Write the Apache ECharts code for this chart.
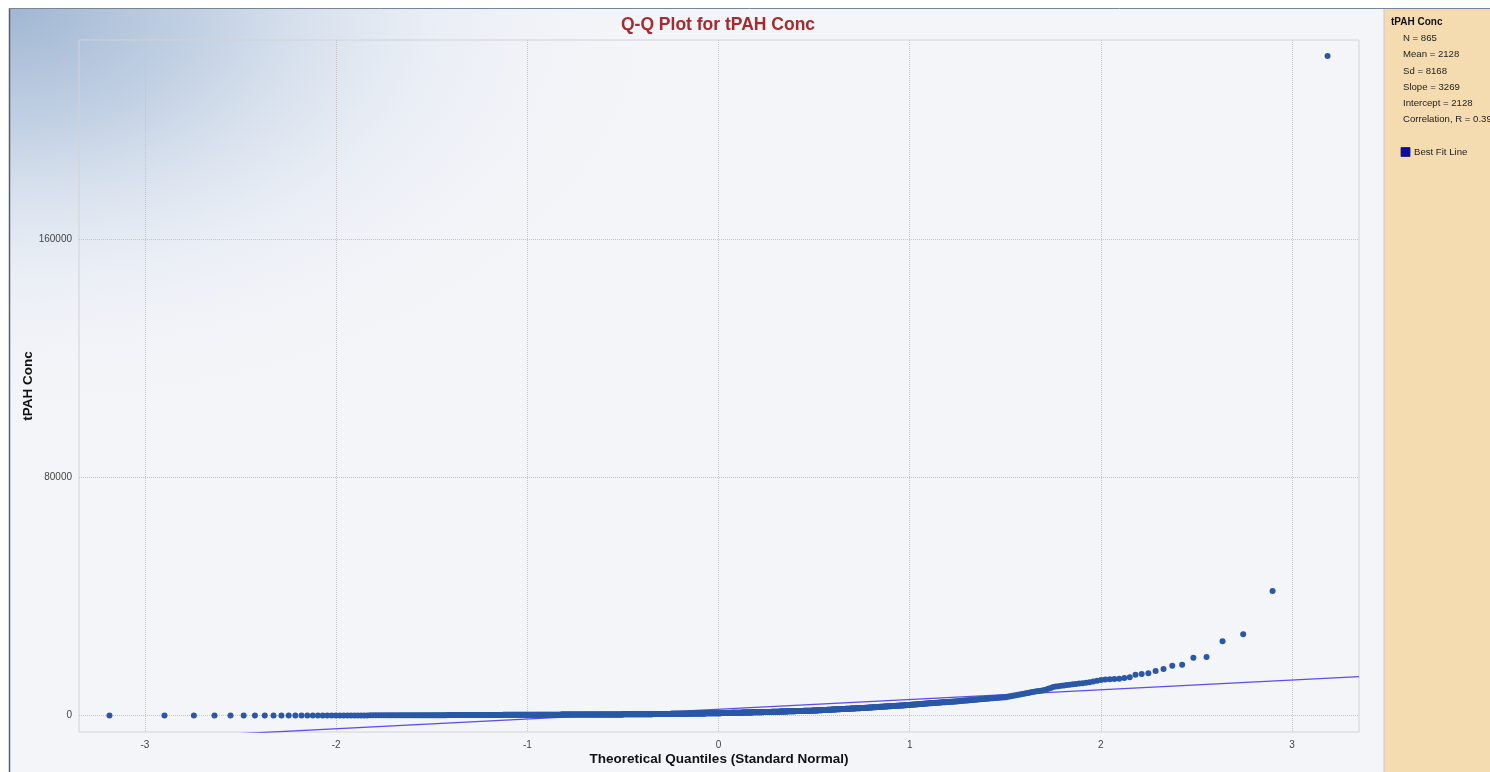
<!DOCTYPE html>
<html>
<head>
<meta charset="utf-8">
<title>Q-Q Plot for tPAH Conc</title>
<script src="https://cdn.jsdelivr.net/npm/echarts@6/dist/echarts.min.js"></script>
<style>
  html, body { margin: 0; padding: 0; background: #ffffff; }
  #chart { width: 1490px; height: 772px; }
</style>
</head>
<body>
<div id="chart"></div>
<script>
// Sorted tPAH concentrations (N = 865)
const tpahConc = [
  3, 8, 12, 16, 19, 22, 26, 29, 31, 35,
  38, 40, 44, 47, 49, 53, 56, 58, 62, 65,
  66, 68, 70, 70, 74, 77, 80, 80, 84, 87,
  90, 92, 95, 95, 99, 102, 104, 108, 110, 110,
  115, 117, 119, 122, 125, 125, 128, 131, 133, 136,
  138, 140, 140, 143, 145, 147, 149, 150,
  152, 154, 156, 158, 160, 160, 163, 165, 167, 170,
  172, 174, 176, 178, 180, 180, 183, 185, 187, 190,
  192, 194, 196, 198, 200, 200, 202, 204, 206, 208,
  210, 212, 214, 216, 218, 220, 220, 222, 224, 226,
  228, 230, 232, 234, 236, 238, 240, 240, 242, 245,
  247, 250, 250, 252, 255, 257, 260, 260, 262, 265,
  267, 270, 270, 272, 275, 277, 280, 280, 282, 285,
  287, 289, 290, 292, 294, 295, 297, 298, 300,
  301, 302, 303, 304, 305, 306, 307, 308, 309, 310,
  310, 311, 312, 313, 314, 315, 316, 317, 318, 319,
  320, 320, 321, 322, 323, 324, 325, 326, 327, 328,
  329, 330, 330, 331, 332, 333, 334, 335, 336, 337,
  338, 339, 340, 340, 341, 342, 343, 344, 345, 346,
  347, 348, 349, 350, 350, 351, 352, 353, 354, 355,
  356, 357, 358, 359, 360, 360, 361, 362, 363, 364,
  365, 366, 367, 368, 369, 370, 370, 371, 372, 373,
  374, 375, 376, 377, 378, 379, 380, 380, 381, 382,
  383, 384, 385, 386, 387, 388, 389, 390, 390, 391,
  392, 393, 394, 395, 396, 397, 398, 399, 400, 400,
  402, 404, 405, 406, 408, 409, 410, 410, 412, 414,
  415, 416, 417, 418, 419, 419, 420, 420, 420, 420,
  422, 424, 425, 427, 429, 430, 432, 434, 435, 437,
  439, 440, 442, 444, 445, 447, 449, 450, 452, 454,
  455, 457, 459, 460, 462, 464, 465, 467, 469, 470,
  472, 474, 475, 477, 479, 480, 482, 484, 485, 487,
  489, 490, 492, 494, 496, 498, 500,
  503, 505, 508, 510, 513, 516, 518, 520, 523, 526,
  529, 531, 534, 537, 540, 542, 545, 548, 550, 553,
  556, 558, 561, 564, 566, 569, 572, 575, 577, 580,
  583, 585, 588, 591, 593, 596, 599, 601, 604, 607,
  610, 612, 615, 618, 620, 623, 626, 628, 631, 634,
  637, 639, 642, 645, 647, 650, 653, 655, 658, 661,
  664, 666, 669, 672, 674, 677, 680, 682, 685, 688,
  691, 693, 696, 699, 701, 704, 707, 709, 712, 715,
  718, 720, 723, 726, 728, 731, 734, 736, 739, 742,
  745, 747, 750, 753, 755, 758, 761, 763, 766, 769,
  772, 774, 777, 780, 782, 785, 788, 790, 793, 796,
  799, 801, 804, 807, 809, 812, 815, 818, 820,
  825, 829, 834, 838, 843, 847, 852, 856, 861, 865,
  870, 874, 879, 883, 888, 892, 897, 901, 906, 910,
  915, 919, 924, 928, 933, 937, 942, 946, 951, 955,
  960, 964, 969, 973, 978, 982, 987, 991, 996, 1000,
  1005, 1009, 1014, 1018, 1023, 1027, 1032, 1036, 1041, 1045,
  1050, 1054, 1059, 1063, 1068, 1072, 1077, 1081, 1086, 1090,
  1095, 1099, 1104, 1108, 1113, 1117, 1122, 1126, 1131, 1135,
  1140, 1144, 1149, 1153, 1158, 1162, 1167, 1171, 1176, 1180,
  1185, 1189, 1193, 1197, 1200,
  1206, 1212, 1218, 1225, 1231, 1237, 1243, 1250, 1256, 1262,
  1268, 1275, 1281, 1287, 1293, 1300, 1306, 1312, 1318, 1325,
  1331, 1337, 1343, 1350, 1356, 1362, 1368, 1375, 1381, 1387,
  1393, 1400, 1406, 1412, 1418, 1425, 1431, 1437, 1443, 1450,
  1456, 1462, 1468, 1475, 1481, 1487, 1493, 1500, 1506, 1512,
  1518, 1525, 1531, 1537, 1543, 1550, 1556, 1562, 1568, 1575,
  1581, 1587, 1593, 1600, 1606, 1612, 1618, 1625, 1631, 1637,
  1643, 1650, 1656, 1662, 1668, 1675, 1681, 1687, 1693, 1697,
  1700,
  1709, 1722, 1730, 1745, 1756, 1770, 1779, 1795, 1804, 1819,
  1830, 1841, 1858, 1866, 1881, 1890, 1905, 1914, 1930, 1938,
  1950, 1966, 1975, 1990, 2001, 2010, 2027, 2035, 2050, 2058,
  2074, 2083, 2095, 2110, 2118, 2134, 2142, 2158, 2166, 2181,
  2190, 2206, 2214, 2230, 2238, 2253, 2262, 2279, 2286, 2302,
  2310, 2326, 2334, 2350, 2357, 2373, 2382, 2398, 2405, 2421,
  2430, 2446, 2454, 2470, 2478, 2493, 2502, 2517, 2526, 2540,
  2550,
  2566, 2581, 2600, 2617, 2633, 2652, 2668, 2686, 2701, 2720,
  2737, 2752, 2771, 2788, 2805, 2822, 2840, 2856, 2874, 2891,
  2909, 2925, 2944, 2960, 2978, 2995, 3013, 3030, 3047, 3066,
  3082, 3100, 3117, 3135, 3152, 3170, 3187, 3205, 3222, 3240,
  3258, 3275, 3293, 3310, 3328, 3345, 3363, 3380, 3398, 3416,
  3434, 3452, 3470, 3488, 3506, 3530, 3560, 3600,
  3625, 3652, 3676, 3703, 3728, 3755, 3780, 3806, 3832, 3858,
  3884, 3910, 3935, 3962, 3988, 4013, 4040, 4065, 4092, 4118,
  4144, 4170, 4196, 4222, 4248, 4274, 4300, 4326, 4352, 4378,
  4404, 4430, 4456, 4482, 4508, 4534, 4560, 4586, 4612, 4638,
  4664, 4690, 4716, 4742, 4770, 4800,
  4838, 4880, 4920, 4962, 5001, 5044, 5083, 5125, 5165, 5207,
  5246, 5290, 5330, 5371, 5412, 5453, 5494, 5535, 5576, 5618,
  5660, 5700, 5742, 5783, 5825, 5866, 5907, 5948, 5990, 6030,
  6072, 6114, 6156, 6200,
  6310, 6420, 6540, 6650, 6770, 6880, 6990, 7110, 7240, 7380,
  7500, 7640, 7780, 7900, 8020, 8150, 8280, 8400, 8520,
  8700, 9000, 9300, 9600,
  9750, 9880, 10000, 10150, 10280, 10400, 10530, 10650, 10780, 10900,
  11050, 11250, 11500, 11750,
  11960, 12130, 12200, 12300, 12400, 12630, 12870, 13740, 13980, 14210,
  14990, 15660, 16770, 17100, 19450, 19690, 24960, 27320, 41870, 221600
];

// Tick positions
const xTicks = [-3, -2, -1, 0, 1, 2, 3];
const yTicks = [0, 80000, 160000];

// Best-fit line and summary statistics shown in the side panel
const fitSlope = 3269;
const fitIntercept = 2128;
const panelTitle = 'tPAH Conc';
const statLines = [
  'N = 865',
  'Mean = 2128',
  'Sd = 8168',
  'Slope = 3269',
  'Intercept = 2128',
  'Correlation, R = 0.39'
];
const legendLabel = 'Best Fit Line';

// Inverse standard normal CDF (Acklam's rational approximation)
function normInv(p) {
  const a = [-3.969683028665376e+01, 2.209460984245205e+02, -2.759285104469687e+02,
             1.383577518672690e+02, -3.066479806614716e+01, 2.506628277459239e+00];
  const b = [-5.447609879822406e+01, 1.615858368580409e+02, -1.556989798598866e+02,
             6.680131188771972e+01, -1.328068155288572e+01];
  const c = [-7.784894002430293e-03, -3.223964580411365e-01, -2.400758277161838e+00,
             -2.549732539343734e+00, 4.374664141464968e+00, 2.938163982698783e+00];
  const d = [7.784695709041462e-03, 3.224671290700398e-01, 2.445134137142996e+00,
             3.754408661907416e+00];
  const pLow = 0.02425, pHigh = 1 - pLow;
  let q, r;
  if (p < pLow) {
    q = Math.sqrt(-2 * Math.log(p));
    return (((((c[0]*q+c[1])*q+c[2])*q+c[3])*q+c[4])*q+c[5]) /
           ((((d[0]*q+d[1])*q+d[2])*q+d[3])*q+1);
  }
  if (p > pHigh) {
    q = Math.sqrt(-2 * Math.log(1 - p));
    return -(((((c[0]*q+c[1])*q+c[2])*q+c[3])*q+c[4])*q+c[5]) /
            ((((d[0]*q+d[1])*q+d[2])*q+d[3])*q+1);
  }
  q = p - 0.5;
  r = q * q;
  return (((((a[0]*r+a[1])*r+a[2])*r+a[3])*r+a[4])*r+a[5])*q /
         (((((b[0]*r+b[1])*r+b[2])*r+b[3])*r+b[4])*r+1);
}

// Q-Q pairs: Blom plotting positions against the sorted sample
const sorted = tpahConc.slice().sort((u, v) => u - v);
const n = sorted.length;
const qqPoints = sorted.map((v, i) => [normInv((i + 1 - 0.375) / (n + 0.25)), v]);

const X_MIN = -3.345, X_MAX = 3.35;
const Y_MIN = -5500, Y_MAX = 227000;
const fitLine = [
  [X_MIN, fitIntercept + fitSlope * X_MIN],
  [X_MAX, fitIntercept + fitSlope * X_MAX]
];

const FONT = '"Liberation Sans", Arial, sans-serif';

const panelGraphics = [
  { type: 'text', z: 10, style: { x: 1391, y: 22, text: panelTitle, font: 'bold 10px ' + FONT, fill: '#111', verticalAlign: 'middle' } }
].concat(statLines.map((t, k) => ({
  type: 'text', z: 10,
  style: { x: 1403, y: 38.5 + k * 16.2, text: t, font: '9.6px ' + FONT, fill: '#222', verticalAlign: 'middle' }
}))).concat([
  { type: 'rect', z: 10, shape: { x: 1401, y: 147.5, width: 9, height: 9 }, style: { fill: '#0a0aa8', stroke: '#1a1a60', lineWidth: 0.8 } },
  { type: 'text', z: 10, style: { x: 1414, y: 152.5, text: legendLabel, font: '9.6px ' + FONT, fill: '#222', verticalAlign: 'middle' } }
]);

const chart = echarts.init(document.getElementById('chart'), null, { renderer: 'canvas' });

chart.setOption({
  backgroundColor: '#ffffff',
  animation: false,
  textStyle: { fontFamily: FONT },
  title: {
    text: 'Q-Q Plot for tPAH Conc',
    left: 718,
    top: 16,
    textAlign: 'center',
    padding: 0,
    textStyle: { color: '#a82a2e', fontSize: 17.5, fontWeight: 'bold', fontFamily: FONT }
  },
  graphic: [
    // chart surface
    { type: 'rect', z: -20, silent: true, shape: { x: 9, y: 8, width: 1375, height: 764 }, style: { fill: '#f4f5f9' } },
    // top-left sheen, elliptical fade
    { type: 'rect', z: -19, silent: true, x: 9, y: 8, scaleY: 0.62,
      shape: { x: 0, y: 0, width: 760, height: 760 },
      style: { fill: new echarts.graphic.RadialGradient(0, 0, 1, [
        { offset: 0, color: 'rgba(160,182,210,1)' },
        { offset: 0.25, color: 'rgba(185,202,224,0.85)' },
        { offset: 0.55, color: 'rgba(222,230,241,0.5)' },
        { offset: 0.8, color: 'rgba(238,241,247,0.15)' },
        { offset: 1, color: 'rgba(244,245,249,0)' }
      ]) } },
    // side panel
    { type: 'rect', z: -18, silent: true, shape: { x: 1384, y: 8, width: 106, height: 764 }, style: { fill: '#f5dcb0' } },
    { type: 'line', z: -17, silent: true, shape: { x1: 1384, y1: 8, x2: 1384, y2: 772 }, style: { stroke: '#c8c8c8', lineWidth: 1 } },
    // outer frame
    { type: 'line', z: -17, silent: true, shape: { x1: 9.5, y1: 8, x2: 9.5, y2: 772 }, style: { stroke: '#556070', lineWidth: 1.5 } },
    { type: 'line', z: -17, silent: true, shape: { x1: 9, y1: 8.5, x2: 1490, y2: 8.5 }, style: { stroke: '#7a8594', lineWidth: 1 } }
  ].concat(panelGraphics),
  grid: {
    left: 79, right: 131, top: 40, bottom: 40,
    outerBoundsMode: 'none',
    containLabel: false,
    show: true,
    backgroundColor: 'transparent',
    borderColor: '#d2d2d6',
    borderWidth: 1
  },
  xAxis: {
    type: 'value',
    min: X_MIN,
    max: X_MAX,
    axisLine: { show: false },
    axisTick: { show: false, customValues: xTicks },
    axisLabel: { customValues: xTicks, color: '#444', fontSize: 10, margin: 8, fontFamily: FONT },
    splitLine: { show: true, lineStyle: { color: '#c4c4c8', type: 'dotted', width: 1 } },
    name: 'Theoretical Quantiles (Standard Normal)',
    nameLocation: 'middle',
    nameGap: 20,
    nameMoveOverlap: false,
    nameTextStyle: { color: '#111', fontSize: 13.5, fontWeight: 'bold', fontFamily: FONT }
  },
  yAxis: {
    type: 'value',
    min: Y_MIN,
    max: Y_MAX,
    axisLine: { show: false },
    axisTick: { show: false, customValues: yTicks },
    axisLabel: { customValues: yTicks, color: '#444', fontSize: 10, margin: 7, fontFamily: FONT,
                 formatter: v => String(v) },
    splitLine: { show: true, lineStyle: { color: '#c4c4c8', type: 'dotted', width: 1 } },
    name: 'tPAH Conc',
    nameLocation: 'middle',
    nameGap: 44,
    nameMoveOverlap: false,
    nameTextStyle: { color: '#111', fontSize: 13.5, fontWeight: 'bold', fontFamily: FONT }
  },
  series: [
    {
      name: 'Best Fit Line',
      type: 'line',
      z: 2,
      data: fitLine,
      symbol: 'none',
      clip: true,
      silent: true,
      lineStyle: { color: '#5b4ee6', width: 1.3 }
    },
    {
      name: 'tPAH Conc',
      type: 'scatter',
      z: 3,
      data: qqPoints,
      symbol: 'circle',
      symbolSize: 6,
      itemStyle: { color: '#2a58a6', opacity: 1 },
      large: false
    }
  ]
});
</script>
</body>
</html>
